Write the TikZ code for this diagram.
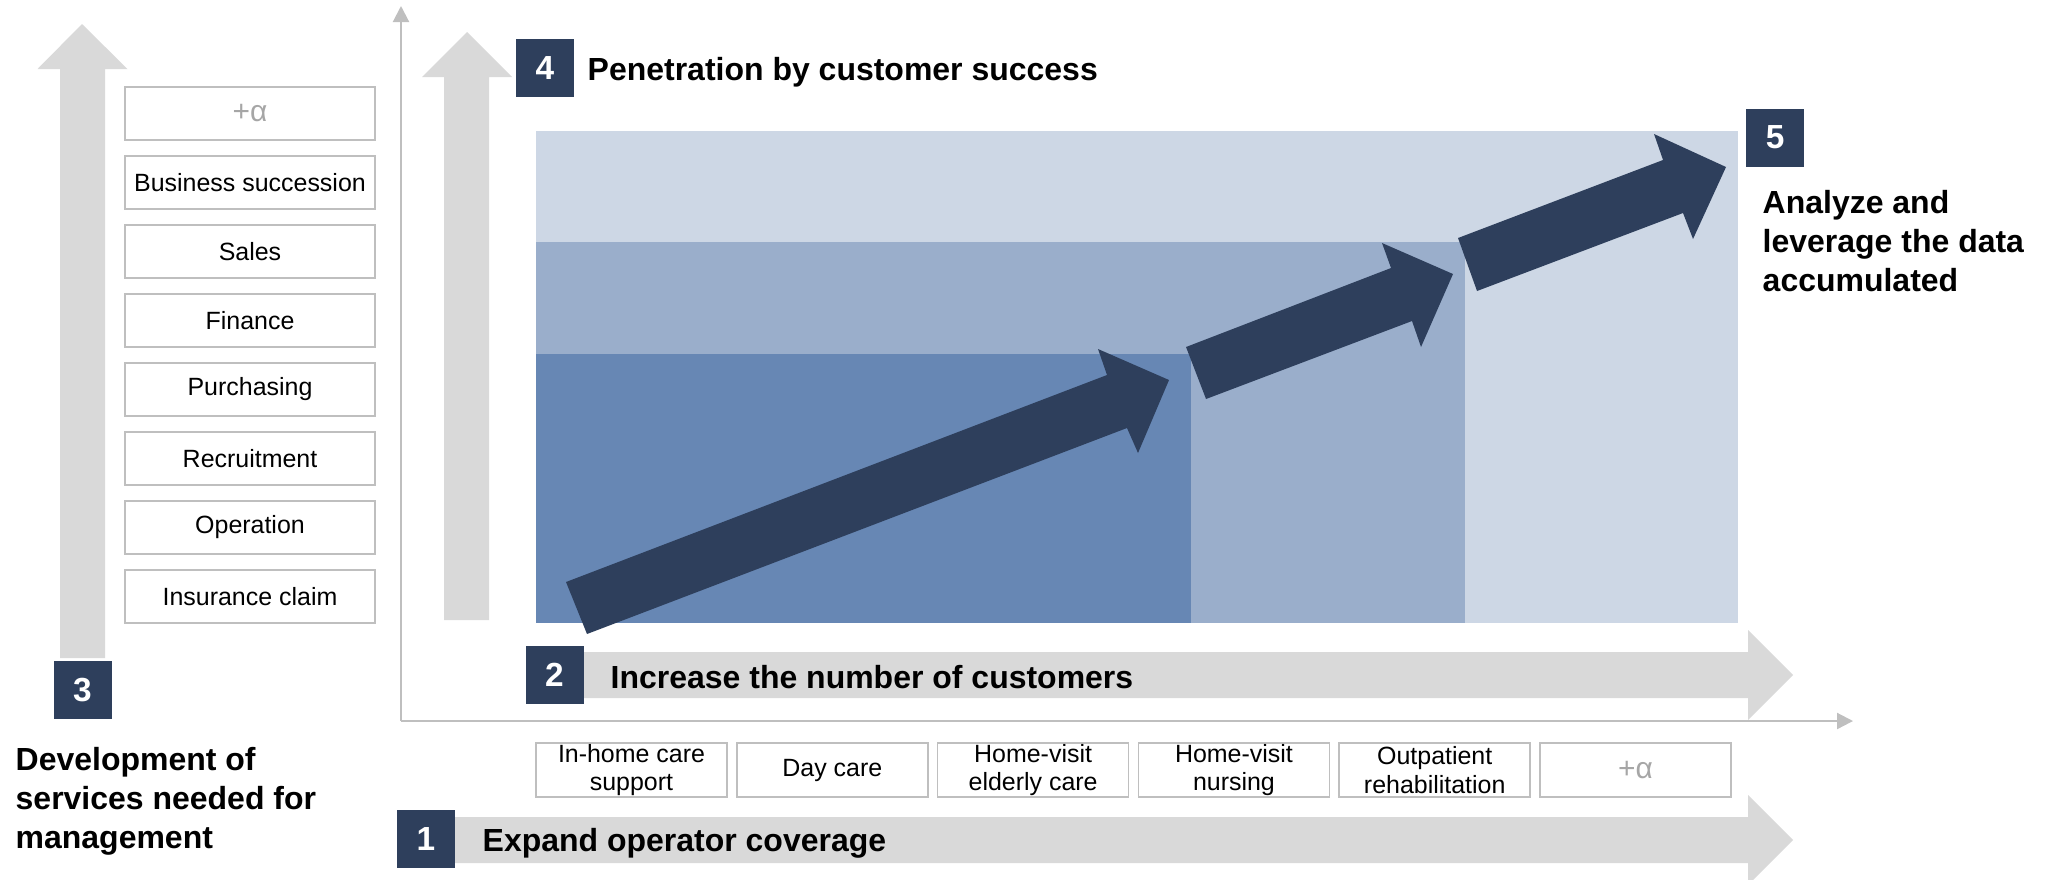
\documentclass[tikz,border=0pt]{standalone}
\usepackage{fontspec}
\setmainfont{Liberation Sans}
\usetikzlibrary{arrows.meta}

\definecolor{navy}{HTML}{2E3F5C}
\definecolor{paneA}{HTML}{CDD7E5}
\definecolor{paneB}{HTML}{9AAECB}
\definecolor{paneC}{HTML}{6787B4}
\definecolor{band}{HTML}{D9D9D9}
\definecolor{axisgray}{HTML}{BFBFBF}
\definecolor{alphagray}{HTML}{A6A6A6}

\tikzset{
  numbox/.style={fill=navy, text=white, minimum width=5.8mm, minimum height=5.8mm,
    inner sep=0pt, font=\fontsize{9.5}{11}\selectfont\bfseries},
  headline/.style={anchor=west, inner sep=0pt, font=\fontsize{9.1}{11}\selectfont\bfseries},
  bigtext/.style={anchor=north west, inner sep=0pt, align=left,
    font=\fontsize{9.1}{11}\selectfont\bfseries},
  svcbox/.style={draw=axisgray, line width=0.45pt, fill=white, minimum width=25mm,
    minimum height=5.3mm, inner sep=0pt, font=\fontsize{7.1}{8}\selectfont},
  opbox/.style={svcbox, minimum width=19.1mm, minimum height=5.4mm, align=center},
  plusalpha/.style={text=alphagray, font=\fontsize{8.5}{9}\selectfont},
  axisline/.style={axisgray, line width=0.6pt, -{Triangle[length=1.6mm,width=1.6mm]}},
}

\begin{document}
\begin{tikzpicture}[x=0.1mm, y=-0.1mm]
  \useasboundingbox (0,0) rectangle (2046,879);

  % Stacked panel
  \fill[paneA] (536,131) rectangle (1738,623);
  \fill[paneB] (536,242) rectangle (1465,623);
  \fill[paneC] (536,354) rectangle (1191,623);

  % Gray band arrows
  \fill[band] (60,658) -- (60,69) -- (37.5,69) -- (82,24) -- (127.5,69) -- (105,69) -- (105,658) -- cycle;
  \fill[band] (444,620) -- (444,77) -- (422,77) -- (467,32) -- (512,77) -- (489,77) -- (489,620) -- cycle;
  \fill[band] (584,652) -- (1748,652) -- (1748,630) -- (1793,675) -- (1748,720) -- (1748,698) -- (584,698) -- cycle;
  \fill[band] (455,817) -- (1748,817) -- (1748,795) -- (1793,840) -- (1748,885) -- (1748,863) -- (455,863) -- cycle;

  % Axes
  \coordinate (origin) at (401,721);
  \coordinate (ytop) at (401,6);
  \coordinate (xend) at (1853,721);
  \draw[axisline] (origin) -- (ytop);
  \draw[axisline] (origin) -- (xend);

  % Growth arrows
  \fill[navy] (566,582) -- (1107,375) -- (1098,349) -- (1169,380) -- (1138,453) -- (1127,428) -- (587,634) -- cycle;
  \fill[navy] (1186,347) -- (1391,268) -- (1382,243) -- (1453,274) -- (1421,347) -- (1412,321) -- (1206,399) -- cycle;
  \fill[navy] (1458,238) -- (1663,160) -- (1654,134) -- (1726,167) -- (1693,239) -- (1683,213) -- (1477,291) -- cycle;

  % Step numbers
  \node[numbox] (n1) at (426,839) {1};
  \node[numbox] (n2) at (554.5,675) {2};
  \node[numbox] (n3) at (82.5,690) {3};
  \node[numbox] (n4) at (545,68) {4};
  \node[numbox] (n5) at (1775,137.5) {5};

  % Step titles
  \node[headline] (t1) at (482,843) {Expand operator coverage};
  \node[headline] (t2) at (610,677) {Increase the number of customers};
  \node[headline] (t4) at (587,72) {Penetration by customer success};
  \node[bigtext] (t3) at (15,747) {Development of\\services needed for\\management};
  \node[bigtext] (t5) at (1762,190) {Analyze and\\leverage the data\\accumulated};

  % Management services
  \node[svcbox, plusalpha] (svc0) at (250,113.5) {+α};
  \foreach \t [count=\i] in {Business succession, Sales, Finance, Purchasing,
      Recruitment, Operation, Insurance claim}
    \node[svcbox] (svc\i) at (250,113.5+69*\i) {\t};

  % Operator types
  \foreach \t [count=\i from 0] in {{In-home care\\support}, Day care,
      {Home-visit\\elderly care}, {Home-visit\\nursing}, {Outpatient\\rehabilitation}}
    \node[opbox] (op\i) at (631.5+200.8*\i,770) {\t};
  \node[opbox, plusalpha] (op5) at (1635.5,770) {+α};
\end{tikzpicture}
\end{document}
